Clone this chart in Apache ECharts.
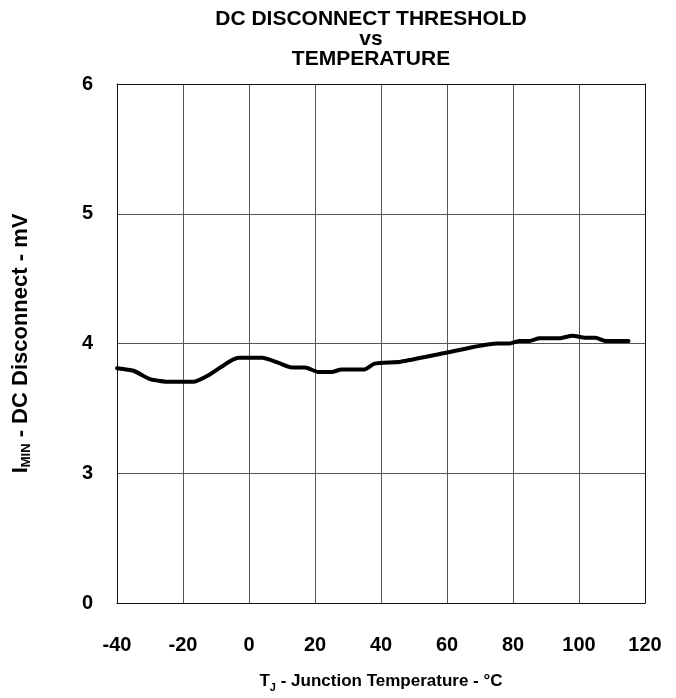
<!DOCTYPE html>
<html>
<head>
<meta charset="utf-8">
<script src="https://cdn.jsdelivr.net/npm/echarts@6/dist/echarts.min.js"></script>
<style>html,body{margin:0;padding:0;background:#fff}#c{width:676px;height:698px}</style>
</head>
<body>
<div id="c"></div>
<script>
const temps = [-40, -35, -30, -24, -17, -12, -6, -3, 4, 9, 13, 17, 21, 25, 28, 35, 38, 46, 60, 75, 79, 82, 85, 88, 94, 98, 102, 105, 108, 115];
const thresholdMV = [3.81, 3.79, 3.725, 3.705, 3.705, 3.76, 3.86, 3.89, 3.89, 3.85, 3.815, 3.815, 3.78, 3.78, 3.80, 3.80, 3.845, 3.86, 3.93, 4.00, 4.00, 4.02, 4.02, 4.04, 4.04, 4.06, 4.045, 4.045, 4.02, 4.02];
const xTicks = [-40, -20, 0, 20, 40, 60, 80, 100, 120];
// the y axis is broken: the bottom gridline is labelled 0, then 3,4,5,6
const yTickLabels = {2: '0', 3: '3', 4: '4', 5: '5', 6: '6'};

const FONT = '"Liberation Sans", Arial, sans-serif';
const GRID = '#555';
const sub = (size) => ({fontFamily: FONT, fontWeight: 'bold', fontSize: size, color: '#000', lineHeight: 24, verticalAlign: 'bottom', padding: [12, 0, 0, 0]});
const main = (size) => ({fontFamily: FONT, fontWeight: 'bold', fontSize: size, color: '#000', lineHeight: 24});
const chart = echarts.init(document.getElementById('c'));
chart.setOption({
  animation: false,
  title: {
    text: 'DC DISCONNECT THRESHOLD\nvs\nTEMPERATURE',
    left: 366,
    top: 4,
    textAlign: 'center',
    textStyle: {fontFamily: FONT, fontWeight: 'bold', fontSize: 21, lineHeight: 20, color: '#000'}
  },
  grid: {left: 117, width: 528, top: 84, height: 529},
  xAxis: [{
    type: 'value', min: xTicks[0], max: xTicks[xTicks.length - 1], interval: 20,
    axisLine: {show: true, onZero: false, lineStyle: {color: '#111', width: 1}},
    axisTick: {show: false},
    splitLine: {show: true, lineStyle: {color: GRID, width: 1}},
    axisLabel: {margin: 32, fontFamily: FONT, fontWeight: 'bold', fontSize: 20, color: '#000'},
    name: '{m|T}{s|J}{m| - Junction Temperature - °C}',
    nameLocation: 'middle', nameGap: 66,
    nameTextStyle: {rich: {m: main(17), s: sub(11)}}
  }, {
    type: 'value', position: 'top', min: xTicks[0], max: xTicks[xTicks.length - 1], interval: 20,
    axisLine: {show: true, onZero: false, lineStyle: {color: '#111', width: 1}},
    axisTick: {show: false}, axisLabel: {show: false}, splitLine: {show: false}
  }],
  yAxis: [{
    type: 'value', min: 2, max: 6, interval: 1,
    axisLine: {show: true, onZero: false, lineStyle: {color: '#111', width: 1}},
    axisTick: {show: false},
    splitLine: {show: true, lineStyle: {color: GRID, width: 1}},
    axisLabel: {margin: 24, fontFamily: FONT, fontWeight: 'bold', fontSize: 20, color: '#000',
      formatter: v => yTickLabels[v] !== undefined ? yTickLabels[v] : ''},
    name: '{m|I}{s|MIN}{m| - DC Disconnect - mV}',
    nameLocation: 'middle', nameGap: 84, nameRotate: 90,
    nameTextStyle: {rich: {m: main(22), s: sub(13)}}
  }, {
    type: 'value', position: 'right', min: 2, max: 6, interval: 1,
    axisLine: {show: true, onZero: false, lineStyle: {color: '#111', width: 1}},
    axisTick: {show: false}, axisLabel: {show: false}, splitLine: {show: false}
  }],
  series: [{
    type: 'line',
    xAxisIndex: 0, yAxisIndex: 0,
    data: temps.map((t, i) => [t, thresholdMV[i]]),
    showSymbol: false,
    smooth: 0.2,
    lineStyle: {color: '#000', width: 4, join: 'round', cap: 'round'}
  }]
});
</script>
</body>
</html>
